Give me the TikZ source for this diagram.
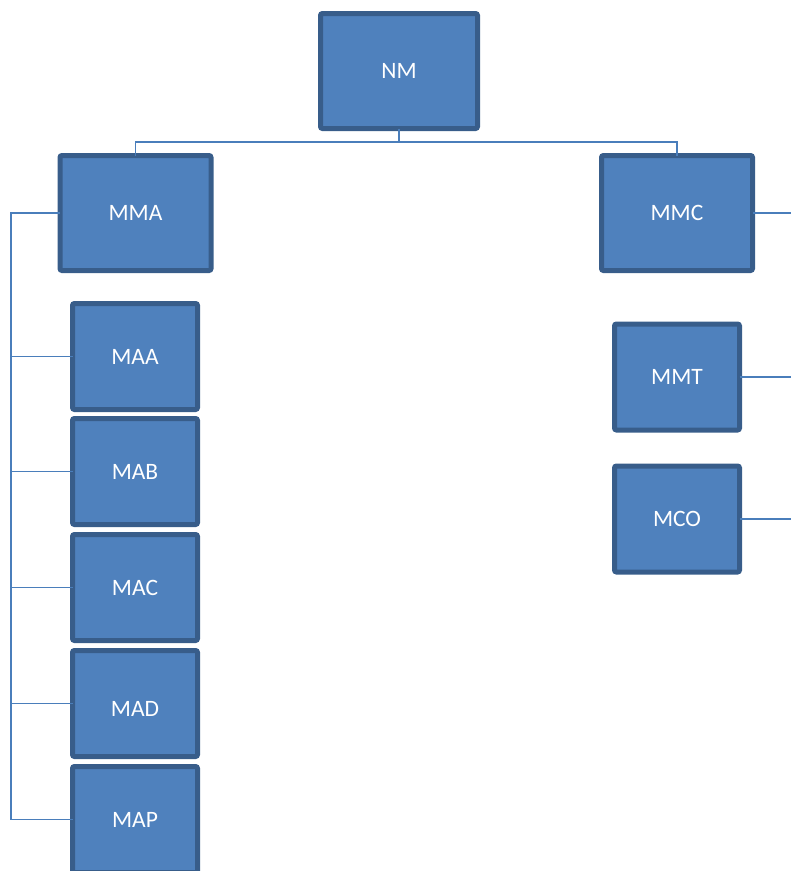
\documentclass[tikz,border=0pt]{standalone}
\usepackage{fontspec}
\setmainfont{Carlito}
\definecolor{boxfill}{HTML}{4F81BD}
\definecolor{boxline}{HTML}{385D8A}
\definecolor{conn}{HTML}{4A7EBB}
\begin{document}
\begin{tikzpicture}[x=1pt,y=-1pt,
  box/.style={draw=boxline, fill=boxfill, line width=5pt, rounded corners=2pt,
    text=white, font=\fontsize{23.5}{26}\selectfont, inner sep=0pt, outer sep=0pt},
  big/.style={box, minimum width=151pt, minimum height=115pt},
  small/.style={box, minimum width=125pt, minimum height=106pt},
  link/.style={draw=conn, line width=1.6pt}]
\useasboundingbox (0,0) rectangle (791,871);
\clip (0,0) rectangle (791,871);
\coordinate (bus) at (0,142);
\coordinate (rail) at (11,0);
\coordinate (e1) at (791,213);
\coordinate (e2) at (791,377);
\coordinate (e3) at (791,519);
\node[box, minimum width=157pt, minimum height=115pt] (nm) at (399,71) {NM};
\node[big] (mma) at (135.5,213) {MMA};
\node[big] (mmc) at (677,213) {MMC};
\node[small] (maa) at (135,356.5) {MAA};
\node[small] (mab) at (135,471.5) {MAB};
\node[small] (mac) at (135,587.5) {MAC};
\node[small, text height=25pt, text depth=0pt] (mad) at (135,703.5) {MAD};
\node[small] (map) at (135,819.5) {MAP};
\node[small] (mmt) at (677,377) {MMT};
\node[small] (mco) at (677,519) {MCO};
\draw[link] (nm.south) -- (nm.south |- bus);
\draw[link] (mma.north) -- (mma.north |- bus) -- (mmc.north |- bus) -- (mmc.north);
\draw[link] (mma.west) -- (rail |- mma.west) -- (rail |- map.west) -- (map.west);
\foreach \n in {maa,mab,mac,mad}
  \draw[link] (rail |- \n.west) -- (\n.west);
\draw[link] (mmc.east) -- (e1);
\draw[link] (mmt.east) -- (e2);
\draw[link] (mco.east) -- (e3);
\end{tikzpicture}
\end{document}
